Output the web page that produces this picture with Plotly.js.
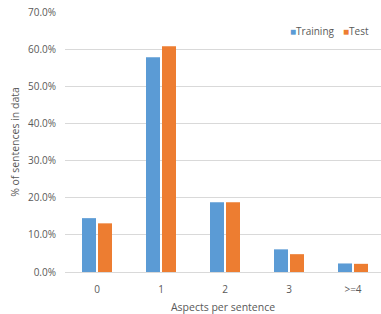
<!DOCTYPE html>
<html>
<head>
<meta charset="utf-8">
<script src="https://cdn.plot.ly/plotly-3.0.1.min.js"></script>
<style>html,body{margin:0;padding:0;background:#fff;}</style>
</head>
<body>
<div id="chart" style="width:381px;height:314px;"></div>
<script>
const categories = ["0", "1", "2", "3", ">=4"];
const training = [0.145, 0.578, 0.188, 0.061, 0.023];
const test = [0.131, 0.608, 0.188, 0.048, 0.022];
const seriesNames = ["Training", "Test"];
const seriesColors = ["#5B9BD5", "#ED7D31"];

const font = {family: "Open Sans, sans-serif", size: 10, color: "#595959"};
const titleFont = {family: "Open Sans, sans-serif", size: 10.5, color: "#595959"};
const data = [
  {type: "bar", name: seriesNames[0], x: categories, y: training, marker: {color: seriesColors[0]}},
  {type: "bar", name: seriesNames[1], x: categories, y: test, marker: {color: seriesColors[1]}}
];
const legendX = [0.707, 0.872];
const annotations = seriesNames.map((n, i) => ({
  xref: "paper", yref: "paper", x: legendX[i], y: 0.927,
  xanchor: "left", yanchor: "middle", showarrow: false,
  text: "<span style='color:" + seriesColors[i] + "'>■</span>" + n,
  font: font
}));
const layout = {
  width: 381, height: 314,
  margin: {l: 65, r: 0, t: 12, b: 42, autoexpand: false},
  paper_bgcolor: "#fff", plot_bgcolor: "#fff",
  font: font,
  barmode: "group", bargap: 0.5, bargroupgap: 0.125,
  showlegend: false,
  annotations: annotations,
  xaxis: {
    type: "category", range: [-0.5, 4.4375],
    showline: true, linecolor: "#D9D9D9", linewidth: 1,
    ticks: "", tickfont: font, ticklabelstandoff: 8,
    title: {text: "Aspects per sentence", font: titleFont, standoff: 8}
  },
  yaxis: {
    range: [0, 0.7], dtick: 0.1, tickformat: ".1%",
    showgrid: true, gridcolor: "#D9D9D9", gridwidth: 1, zeroline: false,
    ticks: "", tickfont: font, ticklabelstandoff: 8,
    title: {text: "% of sentences in data", font: titleFont, standoff: 6}
  }
};
Plotly.newPlot("chart", data, layout, {displayModeBar: false, staticPlot: true});
</script>
</body>
</html>
